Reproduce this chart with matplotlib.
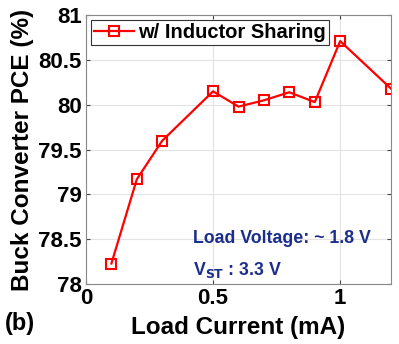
import matplotlib
matplotlib.use("Agg")
import matplotlib.pyplot as plt

plt.rcParams['font.family'] = ['Liberation Sans', 'DejaVu Sans']
plt.rcParams['font.weight'] = 'bold'

# data
load_current = [0.1, 0.2, 0.3, 0.5, 0.6, 0.7, 0.8, 0.9, 1.0, 1.2]
pce = [78.23, 79.17, 79.60, 80.15, 79.98, 80.05, 80.14, 80.03, 80.71, 80.18]
xticks = [0, 0.5, 1]
xtick_labels = ['0', '0.5', '1']
yticks = [78, 78.5, 79, 79.5, 80, 80.5, 81]
ytick_labels = ['78', '78.5', '79', '79.5', '80', '80.5', '81']

fig = plt.figure(figsize=(3.99, 3.44), dpi=100)
ax = fig.add_axes([0.2155, 0.174, 0.7645, 0.782])

ax.plot(load_current, pce, color='red', lw=1.6, marker='s', ms=7,
        mfc='none', mec='red', mew=1.5, label='w/ Inductor Sharing')

ax.set_xlim(0, 1.2)
ax.set_ylim(78, 81)
ax.set_xticks(xticks)
ax.set_xticklabels(xtick_labels)
ax.set_yticks(yticks)
ax.set_yticklabels(ytick_labels)
ax.tick_params(direction='in', top=True, right=True, labelsize=16,
               color='#444444', length=3, pad=3)
ax.grid(True, color='#e3e3e3', lw=0.8)
ax.set_axisbelow(True)
for s in ax.spines.values():
    s.set_color('#888888')
    s.set_linewidth(0.8)

ax.set_xlabel('Load Current (mA)', fontsize=17.5, fontweight='bold', labelpad=5)
ax.set_ylabel('Buck Converter PCE (%)', fontsize=17.5, fontweight='bold', labelpad=3)

leg = ax.legend(loc='upper left', fontsize=14.5, fancybox=False, framealpha=1,
                edgecolor='#333333', borderpad=0.15, handlelength=2.0,
                handletextpad=0.2, borderaxespad=0.25)
leg.get_frame().set_linewidth(0.8)

ax.text(0.35, 0.171, 'Load Voltage: ~ 1.8 V', transform=ax.transAxes,
        color='#1c2e8c', fontsize=12.8, fontweight='bold', va='center')
ax.text(0.35, 0.052, r'V$_{\mathbf{ST}}$ : 3.3 V', transform=ax.transAxes,
        color='#1c2e8c', fontsize=12.8, fontweight='bold', va='center')

fig.text(0.012, 0.04, '(b)', fontsize=17, fontweight='bold')

fig.savefig('out.png', dpi=100)
